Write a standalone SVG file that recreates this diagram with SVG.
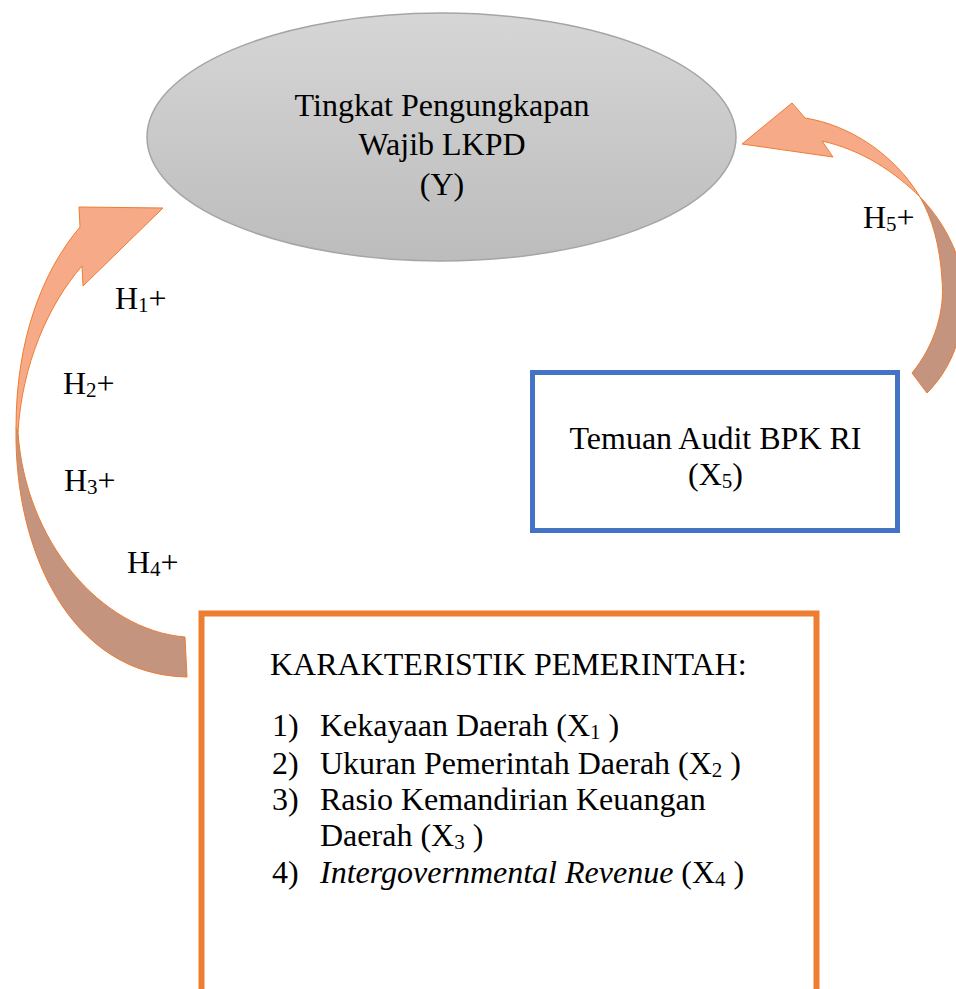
<svg xmlns="http://www.w3.org/2000/svg" width="956" height="989" viewBox="0 0 956 989">
  <defs>
    <linearGradient id="gray" x1="0" y1="0" x2="0" y2="1">
      <stop offset="0" stop-color="#d6d6d6"/>
      <stop offset="1" stop-color="#bcbcbc"/>
    </linearGradient>
    <style>
      text { font-family: "Liberation Serif", "Times New Roman", serif; fill: #000; }
      .t { font-size: 32px; }
      .c { text-anchor: middle; }
      .sub { font-size: 21px; }
      .light { fill: #F7AA87; stroke: #ED7D31; stroke-width: 1; }
      .dark { fill: #C4947E; stroke: #ED7D31; stroke-width: 1; }
    </style>
  </defs>
  <rect width="956" height="989" fill="#fff"/>

  <g id="node-y">
    <ellipse cx="441.5" cy="137" rx="294.5" ry="124" fill="url(#gray)" stroke="#a5a5a5" stroke-width="1.5"/>
    <text class="t c" x="442" y="116">Tingkat Pengungkapan</text>
    <text class="t c" x="442" y="155">Wajib LKPD</text>
    <text class="t c" x="442" y="195">(Y)</text>
  </g>

  <g id="node-x5">
    <rect x="532.5" y="372.5" width="365" height="158" fill="#fff" stroke="#4472C4" stroke-width="5"/>
    <text class="t c" x="715.5" y="449">Temuan Audit BPK RI</text>
    <text class="t c" x="715.5" y="485">(X<tspan class="sub" dy="3">5</tspan><tspan dy="-3">)</tspan></text>
  </g>

  <g id="node-karakteristik">
    <rect x="201.5" y="613.5" width="615" height="420" fill="#fff" stroke="#ED7D31" stroke-width="6"/>
    <text class="t" x="270" y="675">KARAKTERISTIK PEMERINTAH:</text>
    <text class="t" x="272" y="736">1)</text>
    <text class="t" x="320" y="736">Kekayaan Daerah (X<tspan class="sub" dy="3">1</tspan><tspan dy="-3"> )</tspan></text>
    <text class="t" x="272" y="774">2)</text>
    <text class="t" x="320" y="774">Ukuran Pemerintah Daerah (X<tspan class="sub" dy="3">2</tspan><tspan dy="-3"> )</tspan></text>
    <text class="t" x="272" y="810">3)</text>
    <text class="t" x="320" y="810">Rasio Kemandirian Keuangan</text>
    <text class="t" x="320" y="846">Daerah (X<tspan class="sub" dy="3">3</tspan><tspan dy="-3"> )</tspan></text>
    <text class="t" x="272" y="883">4)</text>
    <text class="t" x="320" y="883"><tspan font-style="italic">Intergovernmental Revenue</tspan> (X<tspan class="sub" dy="3">4</tspan><tspan dy="-3"> )</tspan></text>
  </g>

  <g id="connectors">
    <g id="arrow-h1-h4">
      <path class="dark" d="M16,428 C14,550 70,675 187,677 L185,637 C100,630 25,540 18,432 Z"/>
      <path class="light" d="M16,428 C16,340 42,272 80,227 L79,207 L163,208 L83,286 L82,266 C48,305 22,365 18,432 Z"/>
    </g>
    <g id="arrow-h5">
      <path class="dark" d="M920,197 C950,228 968,270 964,310 C960,345 948,372 927,393 L912,373 C935,345 945,310 942,280 C940,245 932,218 920,197 Z"/>
      <path class="light" d="M805,118 C850,125 895,155 920,197 C895,172 862,150 822,141 L833,157 L742,144 L792,103 Z"/>
    </g>
    <text class="t" x="115" y="309">H<tspan class="sub" dy="3">1</tspan><tspan dy="-3">+</tspan></text>
    <text class="t" x="63" y="394">H<tspan class="sub" dy="3">2</tspan><tspan dy="-3">+</tspan></text>
    <text class="t" x="64" y="491">H<tspan class="sub" dy="3">3</tspan><tspan dy="-3">+</tspan></text>
    <text class="t" x="127" y="573">H<tspan class="sub" dy="3">4</tspan><tspan dy="-3">+</tspan></text>
    <text class="t" x="863" y="228">H<tspan class="sub" dy="3">5</tspan><tspan dy="-3">+</tspan></text>
  </g>
</svg>
